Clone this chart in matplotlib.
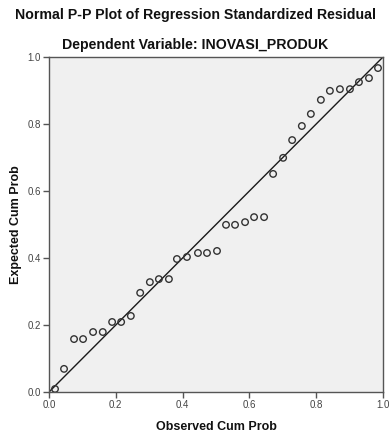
import matplotlib
matplotlib.use("Agg")
import matplotlib.pyplot as plt

observed = [0.018, 0.045, 0.075, 0.102, 0.132, 0.161, 0.189, 0.216, 0.245, 0.273,
            0.302, 0.329, 0.359, 0.383, 0.413, 0.446, 0.473, 0.503, 0.530, 0.557,
            0.587, 0.614, 0.644, 0.671, 0.701, 0.728, 0.757, 0.784, 0.814, 0.841,
            0.871, 0.901, 0.928, 0.958, 0.985]
expected = [0.009, 0.069, 0.158, 0.158, 0.179, 0.179, 0.209, 0.209, 0.227, 0.296,
            0.328, 0.337, 0.337, 0.397, 0.403, 0.415, 0.415, 0.421, 0.499, 0.499,
            0.507, 0.522, 0.522, 0.651, 0.699, 0.752, 0.794, 0.830, 0.872, 0.899,
            0.904, 0.904, 0.925, 0.937, 0.967]
ticks = [0.0, 0.2, 0.4, 0.6, 0.8, 1.0]
tick_labels = ["0.0", "0.2", "0.4", "0.6", "0.8", "1.0"]
title = "Normal P-P Plot of Regression Standardized Residual"
subtitle = "Dependent Variable: INOVASI_PRODUK"
xlabel = "Observed Cum Prob"
ylabel = "Expected Cum Prob"

plt.rcParams['font.family'] = ['Liberation Sans', 'DejaVu Sans']

fig = plt.figure(figsize=(3.91, 4.34), dpi=100)
fig.patch.set_facecolor('white')
ax = fig.add_axes([49/391, 1-392/434, (383-49)/391, (392-57)/434])
ax.set_facecolor('#f0f0f0')

ax.plot([0, 1], [0, 1], color='#1a1a1a', lw=1.0, zorder=2)
ax.scatter(observed, expected, s=22, facecolors='none', edgecolors='#333333',
           linewidths=1.0, zorder=3)

ax.set_xlim(0, 1)
ax.set_ylim(0, 1)
ax.set_xticks(ticks)
ax.set_xticklabels(tick_labels)
ax.set_yticks(ticks)
ax.set_yticklabels(tick_labels)
ax.tick_params(direction='out', length=4, width=1, colors='#555555',
               labelsize=7, labelcolor='#444444', pad=2)
for s in ax.spines.values():
    s.set_color('#555555')
    s.set_linewidth(1.0)

ax.set_xlabel(xlabel, fontsize=9, fontweight='bold', color='#111111', labelpad=8)
ax.set_ylabel(ylabel, fontsize=9, fontweight='bold', color='#111111', labelpad=4)

fig.text(0.5, 1-15/434, title, ha='center', va='center', fontsize=10.2,
         fontweight='bold', color='#111111')
fig.text(0.5, 1-45/434, subtitle, ha='center', va='center', fontsize=10.2,
         fontweight='bold', color='#111111')

fig.savefig('out.png', dpi=100)
